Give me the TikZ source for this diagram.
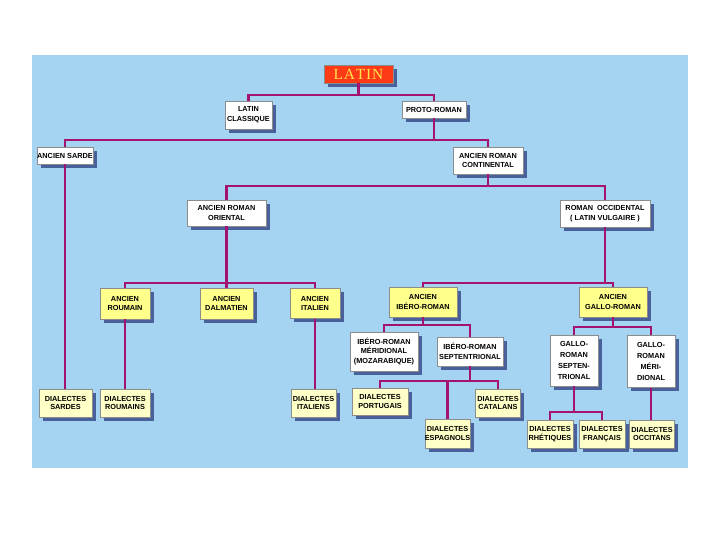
\documentclass[tikz,border=0pt]{standalone}
\usepackage{fontspec}
\setmainfont{Liberation Sans}
\newfontfamily\latinfont{Liberation Serif}
\usetikzlibrary{shadows}

\definecolor{fond}{HTML}{A5D4F2}
\definecolor{trait}{HTML}{A3126E}
\definecolor{ombre}{HTML}{3F5591}
\definecolor{jauneclair}{HTML}{FFFF8C}
\definecolor{jaunepale}{HTML}{FFFFC8}
\definecolor{rouge}{HTML}{FF3A17}
\definecolor{dore}{HTML}{FFE34D}

\begin{document}
\begin{tikzpicture}[x=0.025cm,y=-0.025cm,
    boite/.style 2 args={draw=black!45,line width=0.3pt,inner sep=0pt,align=center,
      font=\fontsize{5.2}{7}\selectfont\bfseries,
      minimum width=#1*0.025cm,minimum height=#2*0.025cm,
      drop shadow={shadow xshift=2.8pt,shadow yshift=-2.8pt,fill=ombre,opacity=0.9}},
    blanche/.style={fill=white},
    ancien/.style={fill=jauneclair},
    dialecte/.style={fill=jaunepale,font=\fontsize{5.2}{6.2}\selectfont\bfseries},
    branche/.style={trait,line width=1.8pt}]
    \useasboundingbox (0,0) rectangle (720,540);
    \fill [fond] (32,55) rectangle (688,468);

    % racine
    \node [boite={69}{18},fill=rouge,text=dore,font=\latinfont\fontsize{11}{12}\selectfont] (latin) at (358.5,74) {L\kern.6ptA\kern.6ptT\kern.6ptI\kern.6ptN};
    \node [boite={47}{28},blanche] (classique) at (248.5,115) {LATIN\\CLASSIQUE};
    \node [boite={64}{17},blanche] (proto) at (434,109.5) {PROTO-ROMAN};
    \node [boite={56}{17},blanche] (sarde) at (65,155.5) {ANCIEN SARDE};
    \node [boite={70}{27},blanche] (continental) at (488,160.5) {ANCIEN ROMAN\\CONTINENTAL};
    \node [boite={79}{26},blanche] (oriental) at (226.5,213) {ANCIEN ROMAN\\ORIENTAL};
    \node [boite={90}{27},blanche] (occidental) at (605,213.5) {ROMAN~~OCCIDENTAL\\(~LATIN VULGAIRE~)};

    % ancien ...
    \node [boite={50}{31},ancien] (roumain) at (125,303.5) {ANCIEN\\ROUMAIN};
    \node [boite={53}{31},ancien] (dalmatien) at (226.5,303.5) {ANCIEN\\DALMATIEN};
    \node [boite={50}{30},ancien] (italien) at (315,303.5) {ANCIEN\\ITALIEN};
    \node [boite={68}{30},ancien] (ibero) at (423,302) {ANCIEN\\IBÉRO-ROMAN};
    \node [boite={68}{30},ancien] (gallo) at (613,302) {ANCIEN\\GALLO-ROMAN};

    \node [boite={68}{39},blanche] (iberomer) at (384,351.5) {IBÉRO-ROMAN\\MÉRIDIONAL\\(MOZARABIQUE)};
    \node [boite={66}{29},blanche] (iberosep) at (470,351.5) {IBÉRO-ROMAN\\SEPTENTRIONAL};
    \node [boite={48}{51},blanche,font=\fontsize{5.2}{7.8}\selectfont\bfseries] (gallosep) at (574,360.5) {GALLO-\\ROMAN\\SEPTEN-\\TRIONAL};
    \node [boite={48}{52},blanche,font=\fontsize{5.2}{7.8}\selectfont\bfseries] (gallomer) at (651,361.5) {GALLO-\\ROMAN\\MÉRI-\\DIONAL};

    % dialectes
    \node [boite={53}{28},dialecte] (sardes) at (65.5,403) {DIALECTES\\SARDES};
    \node [boite={50}{28},dialecte] (roumains) at (125,403) {DIALECTES\\ROUMAINS};
    \node [boite={45}{28},dialecte] (italiens) at (313.5,403) {DIALECTES\\ITALIENS};
    \node [boite={56}{27},dialecte] (portugais) at (380,401.5) {DIALECTES\\PORTUGAIS};
    \node [boite={45}{29},dialecte] (espagnols) at (447.5,433.5) {DIALECTES\\ESPAGNOLS};
    \node [boite={45}{28},dialecte] (catalans) at (498,403) {DIALECTES\\CATALANS};
    \node [boite={46}{28},dialecte] (rhetiques) at (550,434) {DIALECTES\\RHÉTIQUES};
    \node [boite={46}{28},dialecte] (francais) at (602,434) {DIALECTES\\FRANÇAIS};
    \node [boite={45}{28},dialecte] (occitans) at (652,434) {DIALECTES\\OCCITANS};

    % branches
    \draw [branche] (latin.south) -- ++(0,12) -| (classique.north);
    \draw [branche] (latin.south) -- ++(0,12) -| (proto.north);
    \draw [branche] (proto.south) -- ++(0,22) -| (sarde.north);
    \draw [branche] (proto.south) -- ++(0,22) -| (continental.north);
    \draw [branche] (continental.south) -- ++(0,12) -| (oriental.north);
    \draw [branche] (continental.south) -- ++(0,12) -| (occidental.north);
    \draw [branche] (oriental.south) -- ++(0,57) -| (roumain.north);
    \draw [branche] (oriental.south) -- (dalmatien.north);
    \draw [branche] (oriental.south) -- ++(0,57) -| (italien.north);
    \draw [branche] (occidental.south) -- ++(0,56) -| (ibero.north);
    \draw [branche] (occidental.south) -- ++(0,56) -| (gallo.north);
    \draw [branche] (ibero.south) -- ++(0,8) -| (iberomer.north);
    \draw [branche] (ibero.south) -- ++(0,8) -| (iberosep.north);
    \draw [branche] (iberosep.south) -- ++(0,15) -| (portugais.north);
    \draw [branche] (iberosep.south) -- ++(0,15) -| (espagnols.north);
    \draw [branche] (iberosep.south) -- ++(0,15) -| (catalans.north);
    \draw [branche] (gallo.south) -- ++(0,10) -| (gallosep.north);
    \draw [branche] (gallo.south) -- ++(0,10) -| (gallomer.north);
    \draw [branche] (gallosep.south) -- ++(0,26) -| (rhetiques.north);
    \draw [branche] (gallosep.south) -- ++(0,26) -| (francais.north);
    \draw [branche] (gallomer.south) -- (gallomer.south |- occitans.north);
    \draw [branche] (sarde.south) -- (sarde.south |- sardes.north);
    \draw [branche] (roumain.south) -- (roumain.south |- roumains.north);
    \draw [branche] (italien.south) -- (italien.south |- italiens.north);
\end{tikzpicture}
\end{document}
